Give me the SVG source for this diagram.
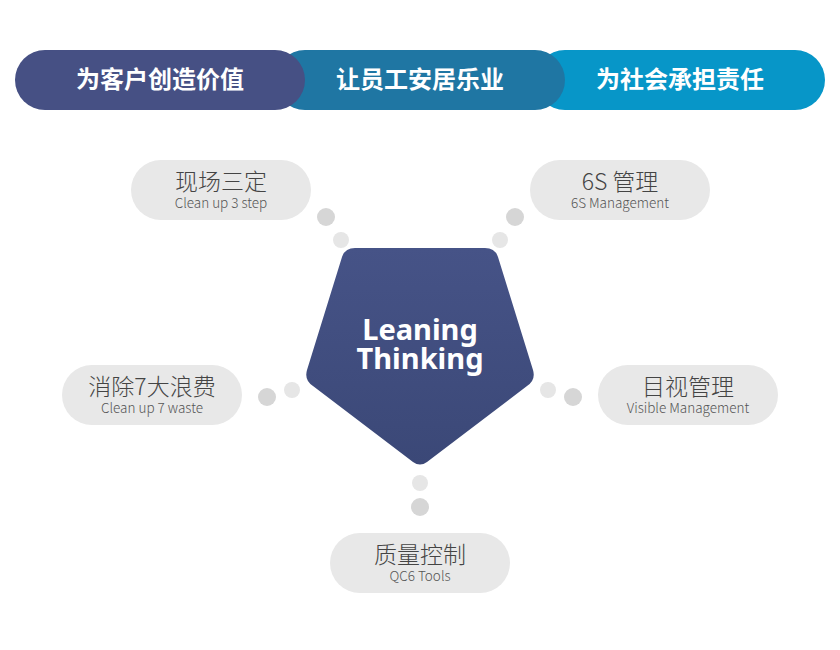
<svg xmlns="http://www.w3.org/2000/svg" width="840" height="650" viewBox="0 0 840 650">
<defs>
<linearGradient id="pg" x1="0" y1="0" x2="0" y2="1">
<stop offset="0" stop-color="#465387"/>
<stop offset="1" stop-color="#3b4877"/>
</linearGradient>
<style>
.band{font-family:"Noto Sans CJK SC","Noto Sans",sans-serif;font-weight:700;font-size:24px;fill:#fff;text-anchor:middle}
.bub{fill:#e8e8e8}
.t1{font-family:"Noto Sans CJK SC","Noto Sans",sans-serif;font-weight:300;font-size:23px;fill:#444;text-anchor:middle}
.t2{font-family:"Noto Sans CJK SC","Noto Sans",sans-serif;font-weight:300;font-size:13.5px;fill:#555;text-anchor:middle}
.d1{fill:#d6d6d6}
.d2{fill:#e6e6e6}
.ctr{font-family:"Noto Sans","Open Sans",sans-serif;font-weight:700;font-size:29px;fill:#fff;text-anchor:middle}
</style>
</defs>
<rect width="840" height="650" fill="#fff"/>
<g id="band">
<g id="band3"><rect x="535" y="50" width="290" height="60" rx="30" fill="#0796c8"/><text class="band" x="680" y="88">为社会承担责任</text></g>
<g id="band2"><rect x="275" y="50" width="290" height="60" rx="30" fill="#1f76a3"/><text class="band" x="420" y="88">让员工安居乐业</text></g>
<g id="band1"><rect x="15" y="50" width="290" height="60" rx="30" fill="#465084"/><text class="band" x="160" y="88">为客户创造价值</text></g>
</g>
<g id="connectors">
<circle class="d1" cx="326" cy="217" r="9"/><circle class="d2" cx="341" cy="240" r="8"/>
<circle class="d1" cx="515" cy="217" r="9"/><circle class="d2" cx="500" cy="240" r="8"/>
<circle class="d1" cx="267" cy="397" r="9"/><circle class="d2" cx="292" cy="390" r="8"/>
<circle class="d1" cx="573" cy="397" r="9"/><circle class="d2" cx="548" cy="390" r="8"/>
<circle class="d2" cx="420" cy="483" r="8"/><circle class="d1" cx="420" cy="507" r="9"/>
</g>
<g id="center">
<path d="M355 248 L485 248 Q495 248 498 257 L533 370 Q536 380 527 386 L427 462 Q420 467 413 462 L313 386 Q304 380 307 370 L342 257 Q345 248 355 248 Z" fill="url(#pg)"/>
<text class="ctr" x="420" y="340">Leaning</text>
<text class="ctr" x="420" y="369">Thinking</text>
</g>
<g id="n1"><rect class="bub" x="131" y="160" width="180" height="60" rx="30"/><text class="t1" x="221" y="190">现场三定</text><text class="t2" x="221" y="208">Clean up 3 step</text></g>
<g id="n2"><rect class="bub" x="530" y="160" width="180" height="60" rx="30"/><text class="t1" x="620" y="190">6S 管理</text><text class="t2" x="620" y="208">6S Management</text></g>
<g id="n3"><rect class="bub" x="62" y="365" width="180" height="60" rx="30"/><text class="t1" x="152" y="395">消除7大浪费</text><text class="t2" x="152" y="413">Clean up 7 waste</text></g>
<g id="n4"><rect class="bub" x="598" y="365" width="180" height="60" rx="30"/><text class="t1" x="688" y="395">目视管理</text><text class="t2" x="688" y="413">Visible Management</text></g>
<g id="n5"><rect class="bub" x="330" y="533" width="180" height="60" rx="30"/><text class="t1" x="420" y="563">质量控制</text><text class="t2" x="420" y="581">QC6 Tools</text></g>
</svg>
